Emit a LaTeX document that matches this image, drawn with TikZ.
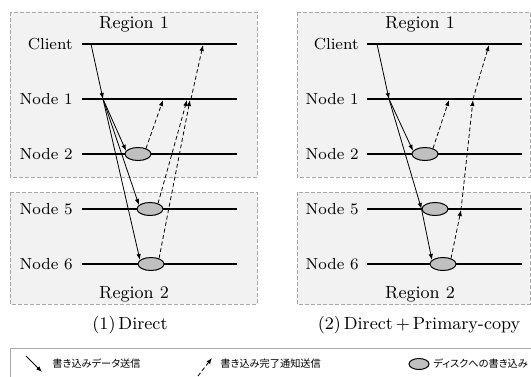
\documentclass[tikz,border=0pt]{standalone}
\usepackage{fontspec}
\newfontfamily\jp[RawFeature=+palt]{Noto Sans CJK JP}
\usetikzlibrary{arrows.meta,shapes.geometric}
\definecolor{boxfill}{HTML}{F2F2F2}
\definecolor{boxline}{HTML}{A8A8A8}
\definecolor{diskfill}{HTML}{C0C0C0}
\tikzset{
  regionbox/.style={draw=boxline, fill=boxfill, dash pattern=on 2pt off 1pt, line width=0.4pt},
  timeline/.style={line width=0.6pt},
  lbl/.style={anchor=east, inner sep=0pt, font=\fontsize{8}{9}\selectfont},
  regionlbl/.style={inner sep=0pt, font=\fontsize{8.8}{10}\selectfont},
  caption/.style={inner sep=0pt, font=\fontsize{8.8}{10}\selectfont},
  disk/.style={ellipse, draw, fill=diskfill, line width=0.5pt, minimum width=13pt, minimum height=6.5pt, inner sep=0pt},
  sendarrow/.style={line width=0.4pt, -{Latex[length=3pt,width=2.2pt]}},
  ackarrow/.style={line width=0.4pt, dash pattern=on 2pt off 1.3pt, -{Latex[length=3pt,width=2.2pt]}},
  legtext/.style={anchor=west, inner sep=0pt, font=\jp\fontsize{5.1}{6}\selectfont},
}
\begin{document}
\begin{tikzpicture}[x=0.5pt, y=-0.5pt]
\useasboundingbox (0,0) rectangle (531,376);

% ---------- region boxes ----------
\draw[regionbox] (10,12) rectangle (257,177);
\draw[regionbox] (10,192) rectangle (257,304);
\draw[regionbox] (297,12) rectangle (530,177);
\draw[regionbox] (297,192) rectangle (530,304);

\node[regionlbl] (lr1) at (134,24) {Region 1};
\node[regionlbl] (lr2) at (134,294) {Region 2};
\node[regionlbl] (rr1) at (420,24) {Region 1};
\node[regionlbl] (rr2) at (420,294) {Region 2};

% ---------- timelines ----------
\foreach \nm/\txt/\yy in {C/Client/44, N1/Node 1/99, N2/Node 2/154, N5/Node 5/209, N6/Node 6/264}{
  \coordinate (L\nm s) at (82,\yy);
  \coordinate (L\nm e) at (237,\yy);
  \draw[timeline] (L\nm s) -- (L\nm e);
  \node[lbl] (L\nm lbl) at (73,\yy) {\txt};
  \coordinate (R\nm s) at (367,\yy);
  \coordinate (R\nm e) at (522,\yy);
  \draw[timeline] (R\nm s) -- (R\nm e);
  \node[lbl] (R\nm lbl) at (359,\yy) {\txt};
}

% ---------- left panel: Direct ----------
\node[disk] (Le2) at (138,154) {};
\node[disk] (Le5) at (150,209) {};
\node[disk] (Le6) at (151,264) {};

\coordinate (Lc0) at (91,44);
\coordinate (Ln1) at (103,99);
\draw[sendarrow] (Lc0) -- (Ln1);
\draw[sendarrow] (Ln1) -- (Le2.165);
\draw[sendarrow] (Ln1) -- (Le5.160);
\draw[sendarrow] (Ln1) -- (Le6.160);

\coordinate (La2) at (163,100);
\coordinate (La5) at (187,100);
\coordinate (La6) at (190,100);
\coordinate (Lb1) at (191,99);
\coordinate (Lac) at (203,45);
\draw[ackarrow] (Le2.35) -- (La2);
\draw[ackarrow] (Le5.35) -- (La5);
\draw[ackarrow] (Le6.35) -- (La6);
\draw[ackarrow] (Lb1) -- (Lac);

% ---------- right panel: Direct + Primary-copy ----------
\node[disk] (Re2) at (425,154) {};
\node[disk] (Re5) at (435,209) {};
\node[disk] (Re6) at (443,264) {};

\coordinate (Rc0) at (377,44);
\coordinate (Rn1) at (389,99);
\draw[sendarrow] (Rc0) -- (Rn1);
\draw[sendarrow] (Rn1) -- (Re2.165);
\draw[sendarrow] (Rn1) -- (Re5.west);
\draw[sendarrow] (Re5.west) -- (Re6.160);

\coordinate (Ra2) at (449,100);
\coordinate (Ra5) at (461,210);
\coordinate (Ra1) at (473,100);
\coordinate (Rb1) at (473,99);
\coordinate (Rac) at (489,45);
\draw[ackarrow] (Re2.35) -- (Ra2);
\draw[ackarrow] (Re6.35) -- (Ra5);
\draw[ackarrow] (Ra5) -- (Ra1);
\draw[ackarrow] (Rb1) -- (Rac);

% ---------- captions ----------
\node[caption] (cap1) at (130,325) {(1)\,Direct};
\node[caption] (cap2) at (419,325) {(2)\,Direct\,+\,Primary-copy};

% ---------- legend ----------
\draw[draw=boxline, fill=white, line width=0.5pt] (10,348) rectangle (540,390);
\coordinate (lg1s) at (26,356);
\coordinate (lg1e) at (42,372);
\draw[sendarrow] (lg1s) -- (lg1e);
\node[legtext] (lt1) at (52,364) {書き込みデータ送信};
\coordinate (lg2s) at (198,376);
\coordinate (lg2e) at (212,358);
\draw[ackarrow] (lg2s) -- (lg2e);
\node[legtext] (lt2) at (220,364) {書き込み完了通知送信};
\node[disk, minimum width=10pt, minimum height=5.5pt] (lg3) at (419,364) {};
\node[legtext] (lt3) at (433,364) {ディスクへの書き込み};
\end{tikzpicture}
\end{document}
